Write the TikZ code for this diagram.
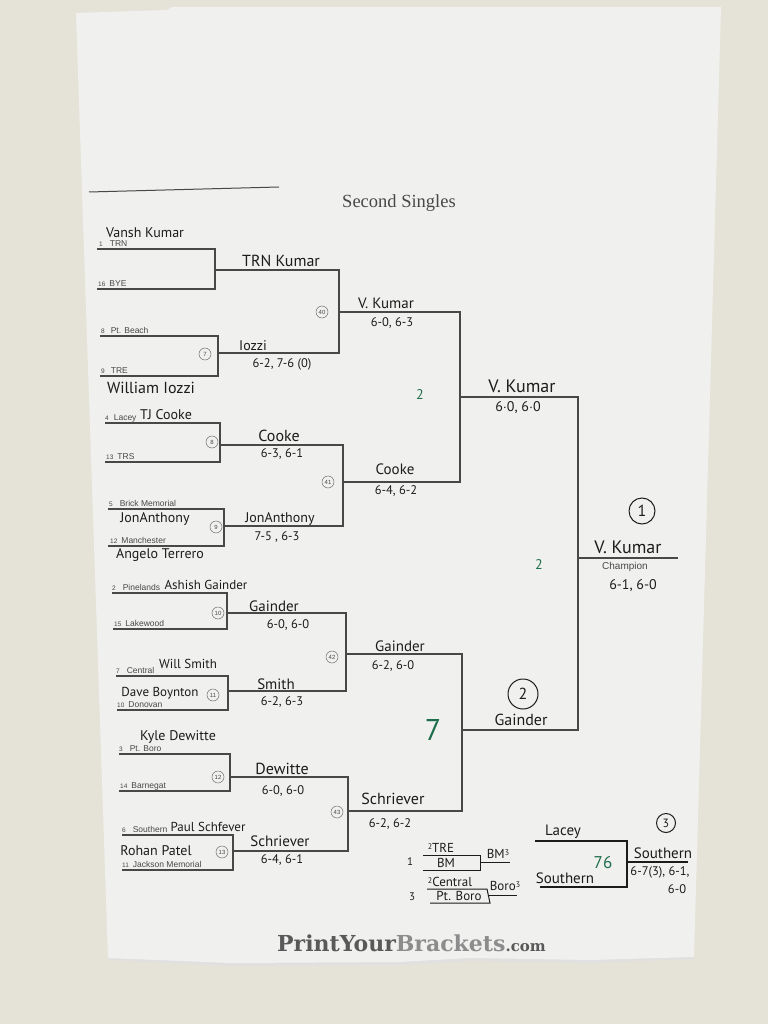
\documentclass[tikz,border=0pt]{standalone}
\usepackage{fontspec}
\setmainfont{Liberation Serif}
\newfontfamily\prt{Liberation Sans}
\newfontfamily\hw{PT Sans}
\newfontfamily\logofont{DejaVu Serif}
\definecolor{wall}{RGB}{229,227,216}
\definecolor{paper}{RGB}{240,240,239}
\definecolor{ink}{RGB}{72,72,72}
\definecolor{pen}{RGB}{28,28,28}
\definecolor{gpen}{RGB}{30,110,75}
\newcommand{\bslot}[5]{\node[lab] (#1) at (#2) {{\fontsize{6.5}{7}\selectfont #3}\hspace{#4}#5};}
\begin{document}
\begin{tikzpicture}[x=1pt,y=-1pt,
  bk/.style={draw=ink, line width=1.3pt},
  lab/.style={font=\prt\fontsize{8.5}{9}\selectfont, text=ink, inner sep=0pt, anchor=base west},
  hand/.style={font=\hw\fontsize{14}{14}\selectfont, text=pen, inner sep=0pt},
  score/.style={font=\hw\fontsize{12.5}{13}\selectfont, text=pen, inner sep=0pt},
  seedc/.style={circle, draw=ink!80, line width=0.5pt, inner sep=0pt, minimum size=12pt, font=\prt\fontsize{6}{6}\selectfont, text=ink},
  bigc/.style={circle, draw=pen, line width=1pt, inner sep=0pt, font=\hw\fontsize{16}{16}\selectfont, text=pen},
  green/.style={font=\hw\fontsize{14}{14}\selectfont, text=gpen, inner sep=0pt}]
\useasboundingbox (0,0) rectangle (768,1024);
\fill[wall] (0,0) rectangle (768,1024);
\fill[black!12] (108,960) -- (230,966) -- (400,965) -- (470,961) -- (590,963) -- (694,959) -- (694,955) -- (108,956) -- cycle;
\fill[paper] (76,13) -- (167,10) -- (172,7) -- (721,7) -- (694,957) -- (590,960) -- (470,958) -- (400,962) -- (230,963) -- (108,958) -- cycle;

% title
\draw[ink, line width=1pt] (89,192) -- (279,187);
\node[font=\fontsize{18.5}{19}\selectfont, text=ink, inner sep=0pt] (title) at (399,203) {Second Singles};

% bracket lines
\draw[bk] (97,249) -| (215,289) -- (97,289);
\draw[bk] (100,336) -| (218,376) -- (100,376);
\draw[bk] (215,270) -| (339,353) -- (218,353);
\draw[bk] (339,312) -| (460,482) -- (343,482);
\draw[bk] (105,423) -| (220,462) -- (105,462);
\draw[bk] (108,509) -| (224,546) -- (108,546);
\draw[bk] (220,445) -| (343,526) -- (224,526);
\draw[bk] (460,397) -| (578,730) -- (462,730);
\draw[bk] (112,593) -| (227,629) -- (113,629);
\draw[bk] (116,676) -| (228,710) -- (117,710);
\draw[bk] (227,613) -| (346,691) -- (228,691);
\draw[bk] (119,754) -| (230,791) -- (119,791);
\draw[bk] (122,835) -| (233,870) -- (122,870);
\draw[bk] (230,777) -| (348,851) -- (233,851);
\draw[bk] (346,654) -| (462,811) -- (348,811);
\draw[bk] (578,558) -- (678,558);

% printed slots
\bslot{s1}{99,246.5}{1}{7pt}{TRN}
\bslot{s16}{98,286.5}{16}{4pt}{BYE}
\bslot{s8}{101,333.5}{8}{6pt}{Pt. Beach}
\bslot{s9}{101,373.5}{9}{6pt}{TRE}
\bslot{s4}{105,420.5}{4}{5pt}{Lacey}
\bslot{s13}{106,459.5}{13}{4pt}{TRS}
\bslot{s5}{109,506.5}{5}{7pt}{Brick Memorial}
\bslot{s12}{110,543.5}{12}{4pt}{Manchester}
\bslot{s2}{112,590.5}{2}{7pt}{Pinelands}
\bslot{s15}{114,626.5}{15}{4pt}{Lakewood}
\bslot{s7}{116,673.5}{7}{7pt}{Central}
\bslot{s10}{117,707.5}{10}{4pt}{Donovan}
\bslot{s3}{119,751.5}{3}{7pt}{Pt. Boro}
\bslot{s14}{120,788.5}{14}{4pt}{Barnegat}
\bslot{s6}{122,832.5}{6}{7pt}{Southern}
\bslot{s11}{122,867.5}{11}{4pt}{Jackson Memorial}
\node[font=\prt\fontsize{10}{10}\selectfont, text=ink, inner sep=0pt] (champ) at (625,567) {Champion};

% seed circles
\node[seedc] (c7) at (205,354) {7};
\node[seedc] (c40) at (322,312) {40};
\node[seedc] (c8) at (212,442) {8};
\node[seedc] (c9) at (216,527) {9};
\node[seedc] (c41) at (328,482) {41};
\node[seedc] (c10) at (218,613) {10};
\node[seedc] (c11) at (213,695) {11};
\node[seedc] (c42) at (332,657) {42};
\node[seedc] (c12) at (218,777) {12};
\node[seedc] (c13) at (222,852) {13};
\node[seedc] (c43) at (337,812) {43};

% handwriting, first round
\node[hand] (h1) at (145,233) {Vansh Kumar};
\node[hand, font=\hw\fontsize{16}{16}\selectfont] (h2) at (151,388) {William Iozzi};
\node[hand] (h3) at (166,415) {TJ Cooke};
\node[hand] (h4) at (155,519) {JonAnthony};
\node[hand] (h5) at (160,555) {Angelo Terrero};
\node[hand, font=\hw\fontsize{13}{13}\selectfont] (h6) at (206,585) {Ashish Gainder};
\node[hand, font=\hw\fontsize{13}{13}\selectfont] (h7) at (188,664) {Will Smith};
\node[hand, font=\hw\fontsize{13}{13}\selectfont] (h8) at (160,693) {Dave Boynton};
\node[hand] (h9) at (178,737) {Kyle Dewitte};
\node[hand, font=\hw\fontsize{13}{13}\selectfont] (h10) at (208,827) {Paul Schfever};
\node[hand] (h11) at (156,851) {Rohan Patel};

% second round winners
\node[hand, font=\hw\fontsize{16}{16}\selectfont] (w1) at (281,261) {TRN Kumar};
\node[hand] (w2) at (253,346) {Iozzi};
\node[score] (w2s) at (282,364) {6-2, 7-6 (0)};
\node[hand, font=\hw\fontsize{16}{16}\selectfont] (w3) at (279,436) {Cooke};
\node[score] (w3s) at (282,454) {6-3, 6-1};
\node[hand] (w4) at (280,519) {JonAnthony};
\node[score] (w4s) at (277,537) {7-5 , 6-3};
\node[hand, font=\hw\fontsize{15}{15}\selectfont] (w5) at (274,606) {Gainder};
\node[score] (w5s) at (288,625) {6-0, 6-0};
\node[hand, font=\hw\fontsize{15}{15}\selectfont] (w6) at (276,684) {Smith};
\node[score] (w6s) at (282,702) {6-2, 6-3};
\node[hand, font=\hw\fontsize{16}{16}\selectfont] (w7) at (282,769) {Dewitte};
\node[score] (w7s) at (283,791) {6-0, 6-0};
\node[hand, font=\hw\fontsize{15}{15}\selectfont] (w8) at (280,841) {Schriever};
\node[score] (w8s) at (282,860) {6-4, 6-1};

% quarter winners
\node[hand, font=\hw\fontsize{15}{15}\selectfont] (q1) at (386,303) {V. Kumar};
\node[score] (q1s) at (392,323) {6-0, 6-3};
\node[hand, font=\hw\fontsize{15}{15}\selectfont] (q2) at (395,469) {Cooke};
\node[score] (q2s) at (396,491) {6-4, 6-2};
\node[hand, font=\hw\fontsize{15}{15}\selectfont] (q3) at (400,646) {Gainder};
\node[score] (q3s) at (393,666) {6-2, 6-0};
\node[hand, font=\hw\fontsize{16}{16}\selectfont] (q4) at (393,799) {Schriever};
\node[score] (q4s) at (390,824) {6-2, 6-2};

% semi winners
\node[hand, font=\hw\fontsize{18}{18}\selectfont] (sf1) at (522,386) {V. Kumar};
\node[score, font=\hw\fontsize{14}{14}\selectfont] (sf1s) at (518,408) {6$\cdot$0, 6$\cdot$0};
\node[hand, font=\hw\fontsize{16}{16}\selectfont] (sf2) at (521,720) {Gainder};
\node[bigc, minimum size=30pt] (sf2c) at (523,694) {2};
\node[green] (g1) at (420,395) {2};
\node[green] (g2) at (539,565) {2};
\node[green, font=\hw\fontsize{30}{30}\selectfont] (g3) at (433,730) {7};

% champion
\node[bigc, minimum size=26pt] (cc1) at (642,511) {1};
\node[hand, font=\hw\fontsize{18}{18}\selectfont] (ch) at (628,547) {V. Kumar};
\node[score, font=\hw\fontsize{14}{14}\selectfont] (chs) at (633,586) {6-1, 6-0};

% small doubles bracket
\node[hand, font=\hw\fontsize{11}{11}\selectfont] (d1) at (410,862) {1};
\node[hand, font=\hw\fontsize{13}{13}\selectfont] (d2) at (441,848) {\raisebox{3pt}{\fontsize{8}{8}\selectfont 2}TRE};
\node[hand, font=\hw\fontsize{13}{13}\selectfont] (d3) at (446,863) {BM};
\draw[draw=pen, line width=1pt] (423,855) -- (480,855) -- (480,870) -- (423,870);
\draw[draw=pen, line width=1pt] (480,862) -- (510,862);
\node[hand, font=\hw\fontsize{13}{13}\selectfont] (d4) at (498,854) {BM\raisebox{3pt}{\fontsize{8}{8}\selectfont 3}};
\node[hand, font=\hw\fontsize{11}{11}\selectfont] (d5) at (412,897) {3};
\node[hand, font=\hw\fontsize{13}{13}\selectfont] (d6) at (450,882) {\raisebox{3pt}{\fontsize{8}{8}\selectfont 2}Central};
\node[hand, font=\hw\fontsize{13}{13}\selectfont] (d7) at (459,896) {Pt. Boro};
\draw[draw=pen, line width=1pt] (427,889) -- (487,889) -- (490,903) -- (430,903);
\draw[draw=pen, line width=1pt] (489,895) -- (517,895);
\node[hand, font=\hw\fontsize{13}{13}\selectfont] (d8) at (505,886) {Boro\raisebox{3pt}{\fontsize{8}{8}\selectfont 3}};

% lacey vs southern
\node[hand, font=\hw\fontsize{15}{15}\selectfont] (e1) at (563,832) {Lacey};
\node[hand, font=\hw\fontsize{15}{15}\selectfont] (e2) at (565,878) {Southern};
\draw[draw=pen, line width=1.2pt] (535,841) -- (627,841) -- (627,887) -- (540,887);
\draw[draw=pen, line width=1.2pt] (627,862) -- (688,862);
\node[green, font=\hw\fontsize{17}{17}\selectfont] (e3) at (603,863) {76};
\node[hand, font=\hw\fontsize{15}{15}\selectfont] (e4) at (663,853) {Southern};
\node[score] (e5) at (660,872) {6-7(3), 6-1,};
\node[score] (e6) at (677,889) {6-0};
\node[bigc, minimum size=19pt, font=\hw\fontsize{12}{12}\selectfont] (e7) at (666,823) {3};

% logo
\node[inner sep=0pt, anchor=base west, font=\logofont\bfseries\fontsize{22}{22}\selectfont] (logo) at (277,951)
  {\textcolor{black!65}{PrintYour}\textcolor{black!45}{Brackets}\textcolor{black!65}{\fontsize{15}{15}\selectfont.com}};
\end{tikzpicture}
\end{document}
